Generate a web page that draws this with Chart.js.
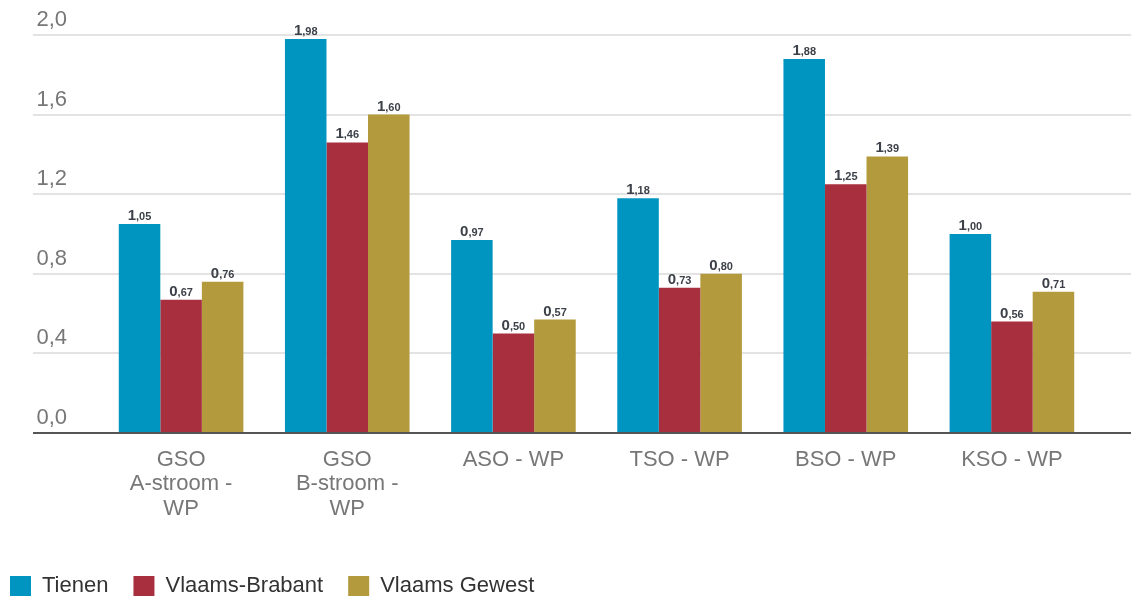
<!DOCTYPE html>
<html>
<head>
<meta charset="utf-8">
<script src="https://cdn.jsdelivr.net/npm/chart.js@4/dist/chart.umd.min.js"></script>
<style>
  html, body { margin: 0; padding: 0; background: #fff; }
  #wrap { position: relative; width: 1131px; height: 597px; }
</style>
</head>
<body>
<div id="wrap"><canvas id="c"></canvas></div>
<script>
const categories = [
  ['GSO', 'A-stroom -', 'WP'],
  ['GSO', 'B-stroom -', 'WP'],
  'ASO - WP',
  'TSO - WP',
  'BSO - WP',
  'KSO - WP'
];
const tienen        = [1.05, 1.98, 0.97, 1.18, 1.88, 1.00];
const vlaamsBrabant = [0.67, 1.46, 0.50, 0.73, 1.25, 0.56];
const vlaamsGewest  = [0.76, 1.60, 0.57, 0.80, 1.39, 0.71];
const seriesNames   = ['Tienen', 'Vlaams-Brabant', 'Vlaams Gewest'];
const yTicks        = [0, 0.4, 0.8, 1.2, 1.6, 2.0];

const FONT = '"Liberation Sans", Arial, sans-serif';
const comma = v => v.toFixed(1).replace('.', ',');
const gridCol = ctx => (ctx.tick && ctx.tick.value === 0) ? '#555555' : '#e3e3e3';

// labels above the bars: big integer part, small decimals
const barLabels = {
  id: 'barLabels',
  afterDatasetsDraw(chart) {
    const ctx = chart.ctx;
    ctx.save();
    ctx.fillStyle = '#3c4048';
    ctx.textBaseline = 'alphabetic';
    chart.data.datasets.forEach((ds, i) => {
      chart.getDatasetMeta(i).data.forEach((bar, j) => {
        const parts = ds.data[j].toFixed(2).split('.');
        const big = parts[0];
        const small = ',' + parts[1];
        ctx.font = 'bold 15px ' + FONT;
        const wb = ctx.measureText(big).width;
        ctx.font = 'bold 11px ' + FONT;
        const ws = ctx.measureText(small).width;
        const x0 = bar.x - (wb + ws) / 2;
        const y = bar.y - 4;
        ctx.font = 'bold 15px ' + FONT;
        ctx.textAlign = 'left';
        ctx.fillText(big, x0, y);
        ctx.font = 'bold 11px ' + FONT;
        ctx.fillText(small, x0 + wb, y);
      });
    });
    ctx.restore();
  }
};

new Chart(document.getElementById('c'), {
  type: 'bar',
  data: {
    labels: categories,
    datasets: [
      { label: seriesNames[0], data: tienen,        backgroundColor: '#0095c0' },
      { label: seriesNames[1], data: vlaamsBrabant, backgroundColor: '#a82f3e' },
      { label: seriesNames[2], data: vlaamsGewest,  backgroundColor: '#b39a3c' }
    ]
  },
  options: {
    responsive: true, maintainAspectRatio: false, animation: false,
    layout: { padding: { top: 35, left: -15, right: 0, bottom: -10 } },
    datasets: { bar: { categoryPercentage: 0.75, barPercentage: 1.0 } },
    plugins: {
      legend: {
        position: 'bottom', align: 'start',
        labels: { boxWidth: 21, boxHeight: 20, padding: 25, color: '#333', font: { family: FONT, size: 22 } }
      },
      tooltip: { enabled: false }
    },
    scales: {
      x: {
        grid: { display: false },
        border: { display: true, color: '#555555', width: 2 },
        afterFit: s => { s.height = 117; },
        ticks: { color: '#777', padding: 7, font: { family: FONT, size: 22, lineHeight: 1.1 }, maxRotation: 0, autoSkip: false }
      },
      y: {
        position: 'left', min: 0, max: 2.0,
        afterBuildTicks: s => { s.ticks = yTicks.map(v => ({ value: v })); },
        afterFit: s => { s.width = 113; },
        border: { display: false },
        grid: { color: gridCol, tickColor: gridCol, lineWidth: 2, drawTicks: true, tickLength: 65 },
        ticks: { color: '#777', crossAlign: 'near', padding: -34, labelOffset: -15, font: { family: FONT, size: 22 }, callback: v => comma(v) }
      },
      y2: {
        position: 'right', min: 0, max: 2.0,
        afterBuildTicks: s => { s.ticks = yTicks.map(v => ({ value: v })); },
        afterFit: s => { s.width = 36; },
        border: { display: false },
        grid: { drawOnChartArea: false, color: gridCol, tickColor: gridCol, lineWidth: 2, drawTicks: true, tickLength: 36 },
        ticks: { display: false }
      }
    }
  },
  plugins: [barLabels]
});
</script>
</body>
</html>
